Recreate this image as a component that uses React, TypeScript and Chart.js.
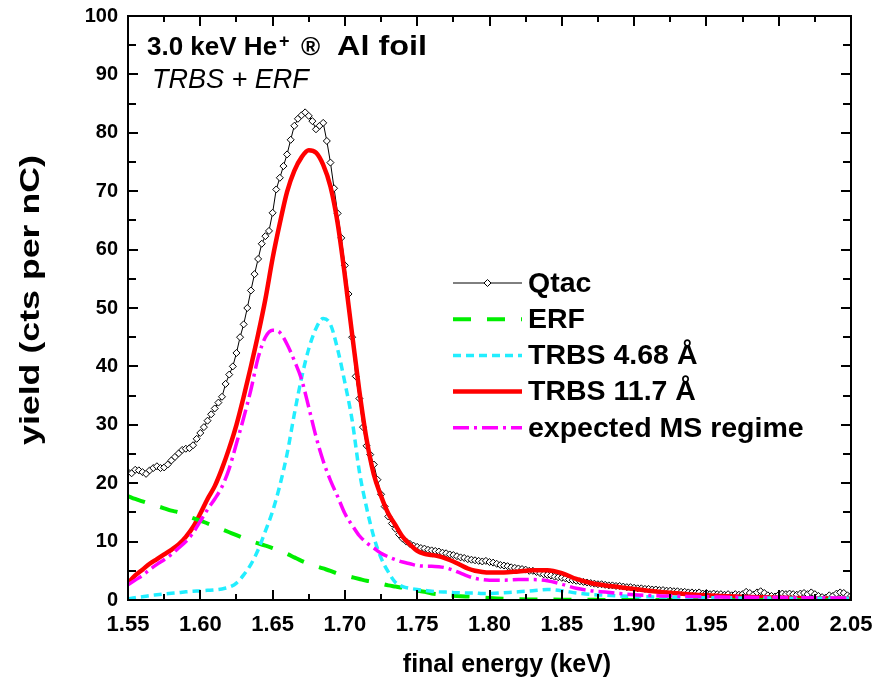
import React, { useEffect, useRef } from 'react';
import { Chart, registerables } from 'chart.js';

Chart.register(...registerables);

const FONT = '"Liberation Sans", Arial, Helvetica, sans-serif';

// Axis ticks
const X_TICKS = [1.55, 1.6, 1.65, 1.7, 1.75, 1.8, 1.85, 1.9, 1.95, 2.0, 2.05];
const Y_TICKS = [0, 10, 20, 30, 40, 50, 60, 70, 80, 90, 100];

// Qtac measured spectrum: channels start at 1.55 keV, every 0.0025 keV
const QTAC_START = 1.55;
const QTAC_STEP = 0.0025;
const QTAC = [
  21.9, 21.7, 22.3, 22.2, 21.9, 21.6, 22.2, 22.6, 22.9, 22.6,
  22.7, 23.2, 23.9, 24.5, 25.1, 25.7, 25.9, 26.0, 26.5, 27.6,
  28.6, 29.6, 30.7, 31.8, 32.8, 33.8, 34.8, 37.0, 38.6, 40.0,
  42.3, 45.0, 47.2, 50.0, 53.0, 55.8, 58.4, 61.0, 62.3, 63.2,
  66.3, 70.3, 72.3, 74.3, 76.3, 78.8, 81.2, 82.4, 83.0, 83.5,
  82.9, 82.0, 80.6, 81.2, 81.7, 78.6, 74.9, 70.5, 66.2, 62.0,
  57.3, 52.4, 45.0, 38.3, 34.5, 29.6, 26.4, 24.9, 23.2, 20.6,
  18.1, 16.0, 14.3, 13.1, 12.2, 11.2, 10.5, 10.0, 9.6, 9.3,
  9.1, 8.9, 8.8, 8.6, 8.5, 8.4, 8.3, 8.1, 8.0, 7.8,
  7.7, 7.5, 7.3, 7.2, 7.0, 6.9, 6.8, 6.7, 6.6, 6.7,
  6.5, 6.4, 6.2, 6.0, 5.9, 5.8, 5.6, 5.5, 5.4, 5.3,
  5.2, 5.0, 5.0, 4.8, 4.6, 4.4, 4.3, 4.2, 4.0, 3.9,
  3.8, 3.7, 3.5, 3.4, 3.3, 3.2, 3.1, 3.0, 2.9, 2.8,
  2.7, 2.7, 2.6, 2.5, 2.5, 2.4, 2.4, 2.3, 2.2, 2.2,
  2.1, 2.0, 2.0, 1.9, 1.9, 1.8, 1.8, 1.7, 1.7, 1.6,
  1.6, 1.5, 1.5, 1.4, 1.4, 1.3, 1.3, 1.2, 1.3, 1.1,
  1.2, 1.0, 1.1, 1.0, 1.0, 0.9, 1.0, 0.8, 1.0, 0.9,
  1.0, 1.4, 1.2, 0.9, 1.3, 1.5, 1.2, 0.8, 0.7, 0.6,
  0.9, 1.1, 1.0, 1.1, 1.0, 0.9, 1.1, 1.2, 1.0, 1.3,
  1.0, 0.7, 0.5, 0.4, 0.8, 0.7, 1.1, 1.3, 1.2, 0.8,
  0.7,
];

// Model curves energy grid (keV)
const MODEL_E = [
  1.55, 1.555, 1.56, 1.565, 1.57, 1.575, 1.58, 1.585, 1.59, 1.595,
  1.6, 1.605, 1.61, 1.615, 1.62, 1.625, 1.63, 1.635, 1.64, 1.645,
  1.65, 1.655, 1.66, 1.665, 1.67, 1.675, 1.68, 1.685, 1.69, 1.695,
  1.7, 1.705, 1.71, 1.715, 1.72, 1.725, 1.73, 1.735, 1.74, 1.745,
  1.75, 1.755, 1.76, 1.765, 1.77, 1.775, 1.78, 1.785, 1.79, 1.795,
  1.8,
  1.81, 1.82, 1.83, 1.84, 1.85, 1.86, 1.87, 1.88, 1.89, 1.9,
  1.91, 1.92, 1.93, 1.94, 1.95, 1.96, 1.97, 1.98, 1.99, 2.0,
  2.01, 2.02, 2.03, 2.04, 2.05,
];

const ERF = [
  17.8, 17.3, 16.9, 16.5, 16.1, 15.7, 15.3, 15.0, 14.5, 14.0,
  13.6, 13.1, 12.6, 12.1, 11.6, 11.1, 10.6, 10.1, 9.7, 9.3,
  8.9, 8.4, 7.9, 7.3, 6.7, 6.2, 5.8, 5.4, 5.0, 4.5,
  4.2, 3.9, 3.6, 3.3, 3.1, 2.8, 2.5, 2.3, 2.1, 1.8,
  1.6, 1.4, 1.1, 0.95, 0.8, 0.72, 0.65, 0.6, 0.55, 0.45,
  0.35,
  0.2, 0.12, 0.1, 0.08, 0.05, 0.04, 0.03, 0.02, 0.02, 0.01,
  0.01, 0, 0, 0, 0, 0, 0, 0, 0, 0,
  0, 0, 0, 0, 0,
];

const TRBS_468 = [
  0.2, 0.4, 0.55, 0.75, 0.9, 1.05, 1.15, 1.25, 1.4, 1.5,
  1.55, 1.65, 1.75, 1.9, 2.2, 2.9, 4.3, 6.1, 8.6, 11.8,
  15.2, 19.6, 25.0, 31.8, 38.0, 43.0, 46.5, 48.2, 47.2, 42.9,
  37.2, 30.8, 22.0, 15.8, 10.8, 7.2, 4.8, 3.0, 2.3, 2.0,
  1.8, 1.65, 1.5, 1.4, 1.35, 1.3, 1.25, 1.2, 1.2, 1.1,
  1.1,
  1.25, 1.4, 1.6, 1.8, 1.6, 1.2, 0.95, 0.82, 0.7, 0.6,
  0.55, 0.5, 0.45, 0.42, 0.4, 0.38, 0.36, 0.34, 0.33, 0.32,
  0.31, 0.3, 0.3, 0.29, 0.29,
];

const TRBS_117 = [
  2.9, 4.2, 5.2, 6.2, 7.0, 7.8, 8.6, 9.5, 10.8, 12.5,
  14.8, 17.3, 19.5, 22.5, 26.0, 30.0, 34.8, 40.0, 45.5, 51.5,
  58.5, 64.5, 69.9, 73.5, 75.8, 77.0, 76.6, 74.5, 70.8, 64.5,
  55.5, 45.5, 35.8, 27.5, 21.5, 17.8, 14.8, 12.8, 10.8, 9.5,
  8.4, 7.9, 7.7, 7.5, 7.1, 6.6, 6.0, 5.4, 5.0, 4.8,
  4.7,
  4.7, 4.9, 5.1, 5.1, 4.6, 3.6, 2.9, 2.5, 2.2, 1.9,
  1.6, 1.35, 1.15, 0.95, 0.8, 0.68, 0.58, 0.5, 0.45, 0.4,
  0.33, 0.28, 0.25, 0.22, 0.2,
];

const MS_REGIME = [
  2.6, 3.4, 4.2, 5.2, 6.1, 6.9, 7.8, 8.9, 10.0, 11.5,
  13.5, 15.5, 17.3, 19.4, 22.5, 26.8, 31.2, 36.0, 41.5, 45.0,
  46.2, 45.8, 43.8, 41.0, 37.8, 33.0, 28.0, 23.8, 20.5, 17.7,
  14.8, 12.8, 11.0, 9.8, 8.9, 8.0, 7.4, 6.9, 6.5, 6.2,
  5.9, 5.8, 5.8, 5.7, 5.5, 5.1, 4.6, 4.1, 3.7, 3.5,
  3.4,
  3.4, 3.5, 3.5, 3.3, 2.7, 2.0, 1.6, 1.35, 1.1, 0.9,
  0.8, 0.7, 0.65, 0.6, 0.55, 0.5, 0.48, 0.46, 0.44, 0.42,
  0.4, 0.38, 0.37, 0.36, 0.35,
];

const TITLE_MAIN = '3.0 keV He';
const TITLE_SUP = '+';
const TITLE_ARROW = '\u00AE';
const TITLE_TARGET = 'Al foil';
const SUBTITLE = 'TRBS + ERF';
const X_TITLE = 'final energy (keV)';
const Y_TITLE = 'yield (cts per nC)';

const toPoints = (xs: number[], ys: number[]) => ys.map((y, i) => ({ x: xs[i], y }));
const qtacPoints = QTAC.map((y, i) => ({ x: QTAC_START + i * QTAC_STEP, y }));

const framePlugin = {
  id: 'frameTicks',
  afterDatasetsDraw(chart: any) {
    const { ctx, chartArea } = chart;
    const { left, right, top, bottom } = chartArea;
    const xs = chart.scales.x;
    const ys = chart.scales.y;
    ctx.save();
    ctx.strokeStyle = '#000';
    ctx.lineWidth = 2;
    ctx.setLineDash([]);
    ctx.beginPath();
    for (let i = 0; i < X_TICKS.length; i++) {
      const px = Math.round(xs.getPixelForValue(X_TICKS[i]));
      ctx.moveTo(px, bottom); ctx.lineTo(px, bottom - 10);
      ctx.moveTo(px, top); ctx.lineTo(px, top + 10);
      if (i < X_TICKS.length - 1) {
        const mx = Math.round(xs.getPixelForValue((X_TICKS[i] + X_TICKS[i + 1]) / 2));
        ctx.moveTo(mx, bottom); ctx.lineTo(mx, bottom - 6);
        ctx.moveTo(mx, top); ctx.lineTo(mx, top + 6);
      }
    }
    for (let i = 0; i < Y_TICKS.length; i++) {
      const py = Math.round(ys.getPixelForValue(Y_TICKS[i]));
      ctx.moveTo(left, py); ctx.lineTo(left + 10, py);
      ctx.moveTo(right, py); ctx.lineTo(right - 10, py);
      if (i < Y_TICKS.length - 1) {
        const my = Math.round(ys.getPixelForValue((Y_TICKS[i] + Y_TICKS[i + 1]) / 2));
        ctx.moveTo(left, my); ctx.lineTo(left + 8, my);
        ctx.moveTo(right, my); ctx.lineTo(right - 8, my);
      }
    }
    ctx.stroke();
    ctx.strokeRect(left, top, right - left, bottom - top);
    ctx.restore();
  },
};

const annotationPlugin = {
  id: 'legendAndTitle',
  afterDraw(chart: any) {
    const { ctx } = chart;
    ctx.save();
    ctx.fillStyle = '#000';
    ctx.textBaseline = 'alphabetic';
    // title
    ctx.font = `bold 26px ${FONT}`;
    ctx.fillText(TITLE_MAIN, 147, 55);
    ctx.font = `bold 18px ${FONT}`;
    ctx.fillText(TITLE_SUP, 279, 47);
    ctx.font = `bold 26px ${FONT}`;
    ctx.fillText(TITLE_ARROW, 301, 55);
    ctx.save();
    ctx.font = `bold 27px ${FONT}`;
    const tw = ctx.measureText(TITLE_TARGET).width;
    ctx.translate(337, 55);
    ctx.scale(90 / tw, 1);
    ctx.fillText(TITLE_TARGET, 0, 0);
    ctx.restore();
    ctx.font = `italic 27px ${FONT}`;
    ctx.fillText(SUBTITLE, 152, 88);

    // x-axis title
    ctx.font = `bold 25px ${FONT}`;
    ctx.textAlign = 'center';
    ctx.textBaseline = 'middle';
    ctx.fillText(X_TITLE, 507, 665);

    // y-axis title
    ctx.save();
    ctx.font = `bold 28px ${FONT}`;
    const yw = ctx.measureText(Y_TITLE).width;
    ctx.translate(31, 300);
    ctx.rotate(-Math.PI / 2);
    ctx.scale(290 / yw, 1);
    ctx.fillText(Y_TITLE, 0, 0);
    ctx.restore();
    ctx.textAlign = 'left';

    // legend
    const x0 = 453, x1 = 522, tx = 528, y0 = 283, dy = 36.2;
    chart.data.datasets.forEach((ds: any, i: number) => {
      const y = y0 + i * dy;
      ctx.save();
      ctx.strokeStyle = ds.borderColor;
      ctx.lineWidth = ds.borderWidth;
      ctx.setLineDash(ds.borderDash || []);
      ctx.beginPath();
      ctx.moveTo(x0, y);
      ctx.lineTo(x1, y);
      ctx.stroke();
      ctx.setLineDash([]);
      if (ds.pointRadius > 0) {
        const cx = (x0 + x1) / 2, r = ds.pointRadius;
        ctx.beginPath();
        ctx.moveTo(cx - r, y); ctx.lineTo(cx, y - r); ctx.lineTo(cx + r, y); ctx.lineTo(cx, y + r);
        ctx.closePath();
        ctx.fillStyle = ds.pointBackgroundColor;
        ctx.fill();
        ctx.lineWidth = ds.pointBorderWidth;
        ctx.strokeStyle = ds.pointBorderColor;
        ctx.stroke();
      }
      ctx.restore();
      ctx.font = `bold 28.5px ${FONT}`;
      ctx.textBaseline = 'middle';
      ctx.fillStyle = '#000';
      ctx.fillText(ds.label, tx, y + 1);
    });
    ctx.restore();
  },
};

export default function App() {
  const ref = useRef<HTMLCanvasElement>(null);
  useEffect(() => {
    const canvas = ref.current;
    if (!canvas) return;
    const tickFont = { family: FONT, size: 20, weight: 'bold' as const };
    const xTickFont = { family: FONT, size: 22, weight: 'bold' as const };
    const chart = new Chart(canvas, {
      type: 'line',
      data: {
        datasets: [
          {
            label: 'Qtac',
            data: qtacPoints,
            borderColor: '#000000',
            borderWidth: 1,
            pointRadius: 3.5,
            pointStyle: 'rectRot',
            pointBackgroundColor: '#ffffff',
            pointBorderColor: '#000000',
            pointBorderWidth: 1,
            tension: 0,
            order: 5,
          },
          {
            label: 'ERF',
            data: toPoints(MODEL_E, ERF),
            borderColor: '#00ee00',
            borderWidth: 4,
            borderDash: [18, 16],
            pointRadius: 0,
            cubicInterpolationMode: 'monotone',
            order: 3,
          },
          {
            label: 'TRBS 4.68 \u00C5',
            data: toPoints(MODEL_E, TRBS_468),
            borderColor: '#22eeff',
            borderWidth: 3.5,
            borderDash: [8, 5],
            pointRadius: 0,
            cubicInterpolationMode: 'monotone',
            order: 2,
          },
          {
            label: 'TRBS 11.7 \u00C5',
            data: toPoints(MODEL_E, TRBS_117),
            borderColor: '#ff0000',
            borderWidth: 4.5,
            pointRadius: 0,
            cubicInterpolationMode: 'monotone',
            order: 4,
          },
          {
            label: 'expected MS regime',
            data: toPoints(MODEL_E, MS_REGIME),
            borderColor: '#ff00ff',
            borderWidth: 3.5,
            borderDash: [16, 5, 3, 5],
            pointRadius: 0,
            cubicInterpolationMode: 'monotone',
            order: 1,
          },
        ] as any,
      },
      options: {
        responsive: false,
        animation: false,
        devicePixelRatio: 1,
        events: [],
        layout: { padding: { left: 0, right: 23, top: 16, bottom: 0 } },
        plugins: { legend: { display: false }, tooltip: { enabled: false }, title: { display: false } },
        scales: {
          x: {
            type: 'linear',
            min: 1.55,
            max: 2.05,
            afterBuildTicks: (s: any) => { s.ticks = X_TICKS.map((v) => ({ value: v })); },
            afterFit: (s: any) => { s.height = 89; s.paddingLeft = 0; s.paddingRight = 0; },
            grid: { display: false, drawTicks: false },
            border: { display: false },
            ticks: {
              padding: 12,
              font: xTickFont,
              color: '#000',
              maxRotation: 0,
              autoSkip: false,
              callback: (v: any) => Number(v).toFixed(2),
            },
            title: { display: false, text: X_TITLE },
          },
          y: {
            type: 'linear',
            min: 0,
            max: 100,
            afterBuildTicks: (s: any) => { s.ticks = Y_TICKS.map((v) => ({ value: v })); },
            afterFit: (s: any) => { s.width = 128; s.paddingTop = 0; s.paddingBottom = 0; },
            grid: { display: false, drawTicks: false },
            border: { display: false },
            ticks: { padding: 10, font: tickFont, color: '#000', autoSkip: false },
            title: { display: false, text: Y_TITLE },
          },
        },
      } as any,
      plugins: [framePlugin, annotationPlugin],
    });
    return () => chart.destroy();
  }, []);
  return (
    <div style={{ position: 'absolute', left: 0, top: 0, width: 874, height: 689, background: '#fff' }}>
      <canvas ref={ref} width={874} height={689} style={{ display: 'block', width: 874, height: 689 }} />
    </div>
  );
}
